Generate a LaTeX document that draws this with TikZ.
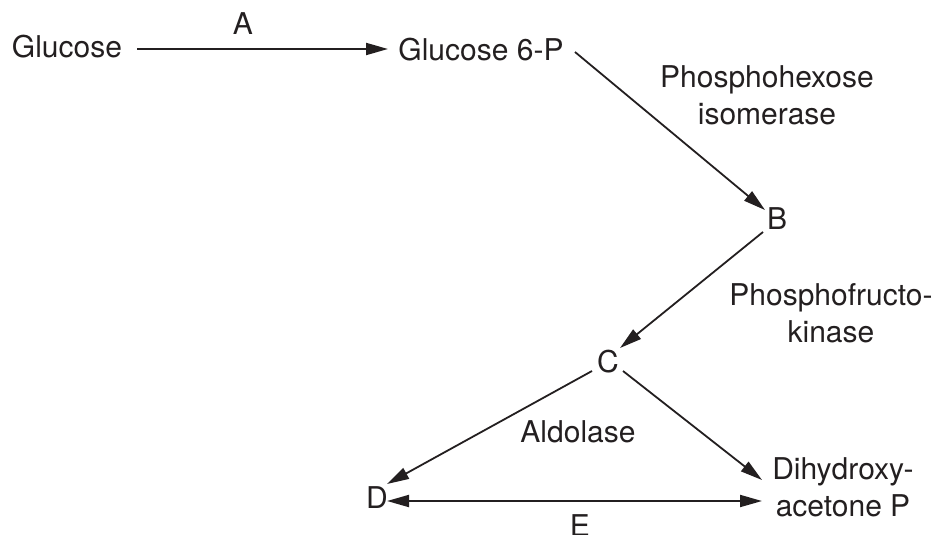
\documentclass[tikz,border=0pt]{standalone}
\usepackage{fontspec}
\setmainfont{TeX Gyre Heros}
\usetikzlibrary{arrows.meta,calc}
\definecolor{ink}{RGB}{35,31,32}
\begin{document}
\begin{tikzpicture}[x=1pt,y=-1pt,
  lbl/.style={inner sep=0pt, outer sep=0pt, text=ink, font=\fontsize{30}{37}\selectfont, align=center},
  rx/.style={draw=ink, line width=1.8pt, -{Triangle[length=22pt,width=12pt]}},
  rxx/.style={draw=ink, line width=1.8pt, {Triangle[length=22pt,width=12pt]}-{Triangle[length=22pt,width=12pt]}}]
\useasboundingbox (0,0) rectangle (938,535);
\clip (0,0) rectangle (938,535);
% nodes
\node[lbl] (glc)  at (67,47)   {Glucose};
\node[lbl] (g6p)  at (481,50)  {Glucose 6-P};
\node[lbl] (lA)   at (243,24)  {A};
\node[lbl] (lPHI) at (767,95)  {Phosphohexose\\isomerase};
\node[lbl] (B)    at (777,219) {B};
\node[lbl] (lPFK) at (831,313) {Phosphofructo-\\kinase};
\node[lbl] (C)    at (608,362) {C};
\node[lbl] (lAld) at (578,432) {Aldolase};
\node[lbl] (D)    at (377,498) {D};
\node[lbl] (dhap) at (843,487) {Dihydroxy-\\acetone P};
\node[lbl] (lE)   at (580,526) {E};
% connectors
\draw[rx]  ($(glc)+(70,2)$)   -- ($(g6p)+(-93,-1)$);
\draw[rx]  ($(g6p)+(94,2)$)   -- ($(B)+(-12,-9)$);
\draw[rx]  ($(B)+(-14,13)$)   -- ($(C)+(12,-14)$);
\draw[rx]  ($(C)+(-16,9)$)    -- ($(D)+(10,-14)$);
\draw[rx]  ($(C)+(15,9)$)     -- ($(dhap)+(-81,-7)$);
\draw[rxx] ($(D)+(10,3)$)     -- ($(dhap)+(-81,14)$);
\end{tikzpicture}
\end{document}
